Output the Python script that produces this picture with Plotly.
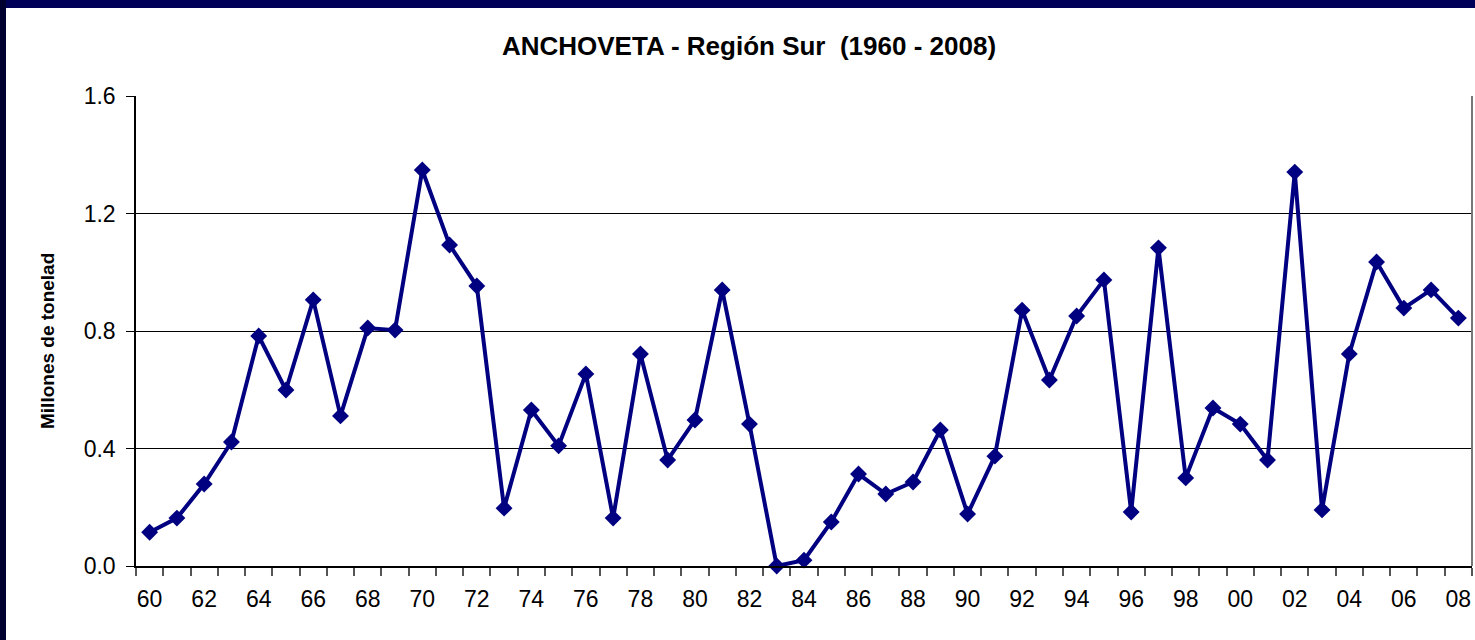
import plotly.graph_objects as go

years = list(range(1960, 2009))
year_labels = [str(y)[2:] for y in years]
catch = [0.115, 0.163, 0.279, 0.422, 0.783, 0.599, 0.906, 0.511, 0.810, 0.803,
         1.348, 1.093, 0.953, 0.197, 0.531, 0.409, 0.654, 0.163, 0.722, 0.361,
         0.497, 0.940, 0.483, 0.000, 0.020, 0.150, 0.313, 0.245, 0.286, 0.463,
         0.177, 0.374, 0.871, 0.633, 0.851, 0.974, 0.184, 1.083, 0.300, 0.538,
         0.483, 0.361, 1.341, 0.191, 0.722, 1.035, 0.878, 0.940, 0.844]
y_ticks = [0.0, 0.4, 0.8, 1.2, 1.6]

W, H = 1475, 640
L, R, T, B = 136, 3, 96, 74
pw = W - L - R
ph = H - T - B

fig = go.Figure()
fig.add_trace(go.Scatter(
    x=years, y=catch, mode="lines+markers",
    line=dict(color="#000080", width=4),
    marker=dict(symbol="diamond", size=13, color="#000080"),
    hoverinfo="x+y", showlegend=False, cliponaxis=False,
))

fig.update_layout(
    width=W, height=H,
    margin=dict(l=L, r=R, t=T, b=B),
    paper_bgcolor="white", plot_bgcolor="white",
    font=dict(family="Liberation Sans, Arial, sans-serif", color="black"),
    title=dict(text="<b>ANCHOVETA - Región Sur  (1960 - 2008)</b>",
               x=749 / W, xanchor="center", y=1 - 46 / H, yanchor="middle",
               yref="container", xref="container",
               font=dict(size=26, family="Liberation Sans, Arial, sans-serif", color="black")),
    xaxis=dict(
        range=[years[0] - 0.5, years[-1] + 0.5],
        tickvals=years[::2], ticktext=year_labels[::2],
        ticks="outside", ticklen=12, tickcolor="rgba(0,0,0,0)",
        showgrid=False, zeroline=False,
        showline=True, linecolor="black", linewidth=1.5,
        tickfont=dict(size=23),
        minor=dict(tickvals=[y - 0.5 for y in years] + [years[-1] + 0.5],
                   ticks="outside", ticklen=8, tickcolor="#555555", tickwidth=1.5, showgrid=False),
    ),
    yaxis=dict(
        range=[0, 1.6], tickvals=y_ticks, tickformat=".1f",
        ticks="outside", ticklen=8, tickcolor="black",
        ticklabelstandoff=6,
        showgrid=True, gridcolor="black", gridwidth=1,
        zeroline=False, showline=True, linecolor="black", linewidth=1.5,
        tickfont=dict(size=23),
    ),
    annotations=[dict(
        text="<b>Millones de tonelad</b>", textangle=-90,
        xref="paper", yref="paper", x=(47 - L) / pw, y=(H - B - 341) / ph,
        xanchor="center", yanchor="middle", showarrow=False,
        font=dict(size=19, color="black"),
    )],
    shapes=[
        dict(type="line", xref="paper", yref="paper", x0=1, x1=1, y0=0, y1=1,
             line=dict(color="#777777", width=2)),
        dict(type="rect", xref="paper", yref="paper",
             x0=-L / pw, x1=(W - L) / pw, y0=1 + (T - 8) / ph, y1=1 + T / ph,
             fillcolor="#000058", line=dict(width=0), layer="above"),
        dict(type="rect", xref="paper", yref="paper",
             x0=-L / pw, x1=(6 - L) / pw, y0=-B / ph, y1=1 + T / ph,
             fillcolor="#000030", line=dict(width=0), layer="above"),
    ],
)

fig.write_html("out.html", config={"displayModeBar": False},
               post_script="document.body.style.margin='0';document.body.style.padding='0';")
